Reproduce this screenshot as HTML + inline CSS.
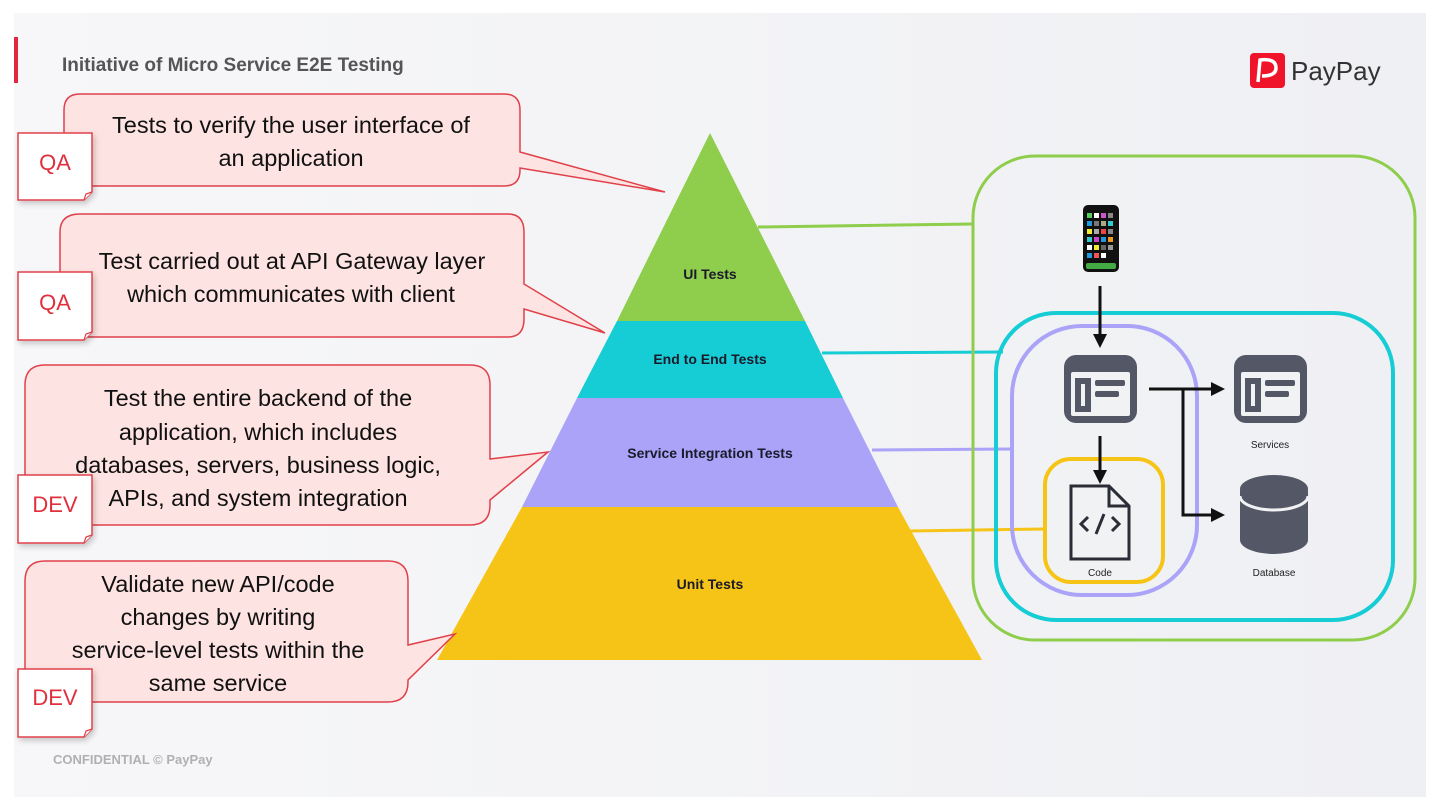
<!DOCTYPE html>
<html><head><meta charset="utf-8"><style>
html,body{margin:0;padding:0;background:#fff;}
svg{display:block}
</style></head><body>
<svg width="1440" height="810" viewBox="0 0 1440 810" xmlns="http://www.w3.org/2000/svg" font-family="Liberation Sans, sans-serif">
<defs>
<linearGradient id="bg" x1="0" x2="1" y1="0" y2="0"><stop offset="0" stop-color="#f7f7f9"/><stop offset="1" stop-color="#eff0f3"/></linearGradient>
<marker id="ah" markerWidth="14" markerHeight="14" refX="11" refY="7" orient="auto" markerUnits="userSpaceOnUse"><path d="M0,0 L14,7 L0,14 Z" fill="#111"/></marker>
<filter id="sh" x="-20%" y="-20%" width="150%" height="150%"><feDropShadow dx="2" dy="3" stdDeviation="3" flood-color="#000" flood-opacity="0.2"/></filter>
</defs>
<rect x="14" y="13" width="1412" height="784" fill="url(#bg)"/>
<rect x="14" y="37" width="4" height="46" fill="#e0283a"/>
<text x="62" y="71" font-size="19" font-weight="bold" fill="#555">Initiative of Micro Service E2E Testing</text>
<rect x="1250" y="53" width="35" height="35" rx="4" fill="#f0142a"/>
<path d="M1258,82 L1260,60 Q1276,58 1276,68 Q1276,76 1262,76" fill="none" stroke="#fff" stroke-width="3.5"/>
<text x="1291" y="80" font-size="26" fill="#333">PayPay</text>
<text x="53" y="764" font-size="13" font-weight="bold" fill="#b0b0b0">CONFIDENTIAL © PayPay</text>

<polygon points="710,133 805,321 617,321" fill="#8fcd4c"/>
<polygon points="617,321 805,321 843,398 577,398" fill="#16ccd5"/>
<polygon points="577,398 843,398 898,507 522,507" fill="#aaa3f8"/>
<polygon points="522,507 898,507 982,660 437,660" fill="#f6c416"/>
<g font-size="14" font-weight="bold" fill="#1a1a2a" text-anchor="middle">
<text x="710" y="279">UI Tests</text>
<text x="710" y="364">End to End Tests</text>
<text x="710" y="458">Service Integration Tests</text>
<text x="710" y="589">Unit Tests</text>
</g>

<line x1="758" y1="227" x2="973" y2="224" stroke="#8fcd4c" stroke-width="3"/>
<line x1="822" y1="353" x2="1003" y2="352" stroke="#16ccd5" stroke-width="3"/>
<line x1="872" y1="450" x2="1012" y2="449" stroke="#aaa3f8" stroke-width="3"/>
<line x1="910" y1="531" x2="1045" y2="529" stroke="#f6c416" stroke-width="3"/>

<rect x="973" y="156" width="442" height="484" rx="62" fill="none" stroke="#8fcd4c" stroke-width="3"/>
<rect x="996" y="313" width="397" height="307" rx="60" fill="none" stroke="#16ccd5" stroke-width="4"/>
<rect x="1012" y="326" width="185" height="269" rx="70" fill="none" stroke="#aaa3f8" stroke-width="4"/>
<rect x="1045" y="459" width="118" height="123" rx="26" fill="none" stroke="#f6c416" stroke-width="4"/>

<rect x="1083" y="205" width="36" height="67" rx="5" fill="#111"/>
<g>
<rect x="1087" y="213" width="5" height="5" fill="#5c5"/><rect x="1094" y="213" width="5" height="5" fill="#fff"/><rect x="1101" y="213" width="5" height="5" fill="#c5c"/><rect x="1108" y="213" width="5" height="5" fill="#888"/>
<rect x="1087" y="221" width="5" height="5" fill="#29d"/><rect x="1094" y="221" width="5" height="5" fill="#777"/><rect x="1101" y="221" width="5" height="5" fill="#aa8"/><rect x="1108" y="221" width="5" height="5" fill="#3cc"/>
<rect x="1087" y="229" width="5" height="5" fill="#ee3"/><rect x="1094" y="229" width="5" height="5" fill="#aaa"/><rect x="1101" y="229" width="5" height="5" fill="#e44"/><rect x="1108" y="229" width="5" height="5" fill="#888"/>
<rect x="1087" y="237" width="5" height="5" fill="#3cc"/><rect x="1094" y="237" width="5" height="5" fill="#c4c"/><rect x="1101" y="237" width="5" height="5" fill="#29d"/><rect x="1108" y="237" width="5" height="5" fill="#e92"/>
<rect x="1087" y="245" width="5" height="5" fill="#fff"/><rect x="1094" y="245" width="5" height="5" fill="#ee3"/><rect x="1101" y="245" width="5" height="5" fill="#666"/><rect x="1108" y="245" width="5" height="5" fill="#999"/>
<rect x="1087" y="253" width="5" height="5" fill="#29d"/><rect x="1094" y="253" width="5" height="5" fill="#e55"/><rect x="1101" y="253" width="5" height="5" fill="#fff"/>
<rect x="1086" y="263" width="30" height="6" rx="2" fill="#4a4"/>
</g>

<line x1="1100" y1="286" x2="1100" y2="345" stroke="#111" stroke-width="3" marker-end="url(#ah)"/>
<line x1="1100" y1="436" x2="1100" y2="481" stroke="#111" stroke-width="3" marker-end="url(#ah)"/>
<line x1="1149" y1="389" x2="1222" y2="389" stroke="#111" stroke-width="3" marker-end="url(#ah)"/>
<polyline points="1183,389 1183,515 1222,515" fill="none" stroke="#111" stroke-width="3" marker-end="url(#ah)"/>

<g fill="#545766">
<rect x="1064" y="355" width="73" height="68" rx="12"/>
<rect x="1234" y="355" width="73" height="68" rx="12"/>
</g>
<g fill="#f1f2f4">
<rect x="1071" y="372" width="59" height="44" rx="2"/>
<rect x="1241" y="372" width="59" height="44" rx="2"/>
</g>
<g fill="#545766">
<rect x="1075" y="378" width="16" height="34"/><rect x="1081" y="384" width="4" height="22" fill="#f1f2f4"/>
<rect x="1095" y="380" width="30" height="6" rx="2"/><rect x="1095" y="391" width="24" height="6" rx="2"/>
<rect x="1245" y="378" width="16" height="34"/><rect x="1251" y="384" width="4" height="22" fill="#f1f2f4"/>
<rect x="1265" y="380" width="30" height="6" rx="2"/><rect x="1265" y="391" width="24" height="6" rx="2"/>
</g>
<text x="1270" y="448" font-size="10" text-anchor="middle" fill="#222">Services</text>

<path d="M1071,486 L1109,486 L1129,506 L1129,559 L1071,559 Z" fill="none" stroke="#2a2c36" stroke-width="3"/>
<path d="M1109,486 L1109,506 L1129,506" fill="none" stroke="#2a2c36" stroke-width="3"/>
<path d="M1088,517 L1081,524 L1088,531 M1112,517 L1119,524 L1112,531 M1104,514 L1096,534" fill="none" stroke="#2a2c36" stroke-width="3"/>
<text x="1100" y="576" font-size="10" text-anchor="middle" fill="#222">Code</text>

<path d="M1240,490 L1240,540 A34,14 0 0 0 1308,540 L1308,490 Z" fill="#545766"/>
<ellipse cx="1274" cy="489" rx="34" ry="14" fill="#545766"/>
<path d="M1240,496 A34,14 0 0 0 1308,496" fill="none" stroke="#f1f2f4" stroke-width="3"/>
<text x="1274" y="576" font-size="10" text-anchor="middle" fill="#222">Database</text>

<g fill="#fde3e1" stroke="#e0404a" stroke-width="1.5">
<path d="M80,94 L504,94 Q520,94 520,110 L520,152 L665,192 L520,168 L520,170 Q520,186 504,186 L80,186 Q64,186 64,170 L64,110 Q64,94 80,94 Z"/>
<path d="M80,214 L508,214 Q524,214 524,232 L524,284 L605,333 L524,309 L524,319 Q524,337 508,337 L80,337 Q60,337 60,319 L60,232 Q60,214 80,214 Z"/>
<path d="M45,365 L470,365 Q490,365 490,385 L490,459 L548,452 L490,500 L490,505 Q490,525 470,525 L45,525 Q25,525 25,505 L25,385 Q25,365 45,365 Z"/>
<path d="M45,561 L388,561 Q408,561 408,581 L408,645 L455,634 L408,680 L408,682 Q408,702 388,702 L45,702 Q25,702 25,682 L25,581 Q25,561 45,561 Z"/>
</g>
<g font-size="23.5" fill="#111" text-anchor="middle">
<text x="291" y="133">Tests to verify the user interface of</text>
<text x="291" y="166">an application</text>
<text x="292" y="269">Test carried out at API Gateway layer</text>
<text x="291" y="302">which communicates with client</text>
<text x="258" y="406">Test the entire backend of the</text>
<text x="258" y="440">application, which includes</text>
<text x="258" y="473">databases, servers, business logic,</text>
<text x="258" y="506">APIs, and system integration</text>
<text x="218" y="592">Validate new API/code</text>
<text x="218" y="625">changes by writing</text>
<text x="218" y="658">service-level tests within the</text>
<text x="218" y="691">same service</text>
</g>

<g fill="#fff" stroke="#e0404a" stroke-width="1.5" filter="url(#sh)">
<path d="M18,133 L92,133 L92,192 L84,200 L18,200 Z"/>
<path d="M18,272 L92,272 L92,332 L84,340 L18,340 Z"/>
<path d="M18,475 L92,475 L92,535 L84,543 L18,543 Z"/>
<path d="M18,669 L92,669 L92,729 L84,737 L18,737 Z"/>
</g>
<g fill="#fff" stroke="#e0404a" stroke-width="1.2">
<path d="M84,200 L86,194 L92,192"/><path d="M84,340 L86,334 L92,332"/><path d="M84,543 L86,537 L92,535"/><path d="M84,737 L86,731 L92,729"/>
</g>
<g font-size="22" fill="#e0303e" text-anchor="middle">
<text x="55" y="170">QA</text>
<text x="55" y="310">QA</text>
<text x="55" y="512">DEV</text>
<text x="55" y="705">DEV</text>
</g>
</svg>
</body></html>
